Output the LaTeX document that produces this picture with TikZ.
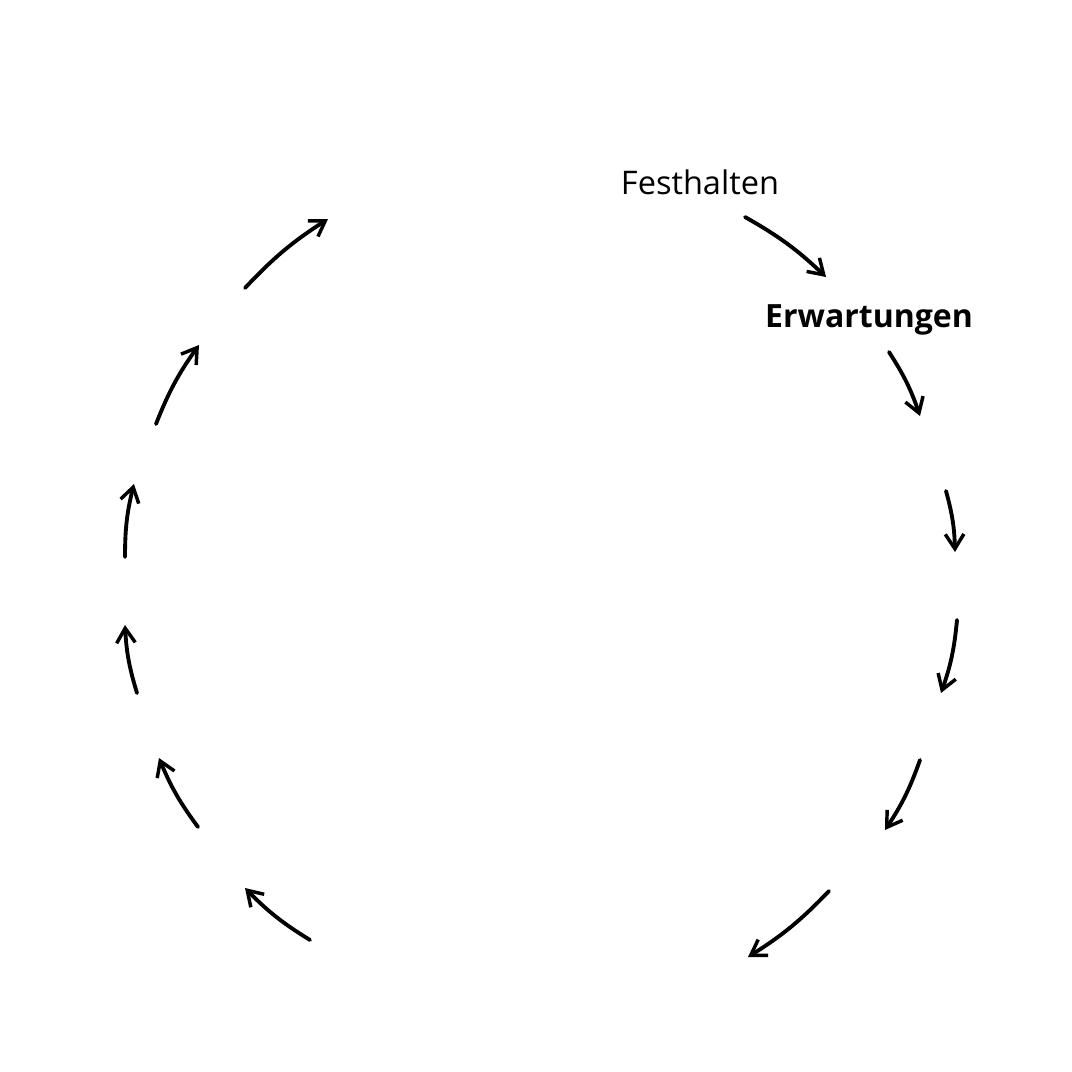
\documentclass[tikz,border=0pt]{standalone}
\usepackage{fontspec}
\setmainfont{Open Sans}
\usetikzlibrary{arrows.meta}
\tikzset{
  sketcharrow/.style={line width=2.9pt, line cap=round, line join=round,
    -{Straight Barb[length=11pt,width=14pt,line width=2.6pt]}},
  lbl/.style={inner sep=0pt, anchor=base}
}
\begin{document}
\begin{tikzpicture}[x=0.75pt,y=-0.75pt]
\useasboundingbox[fill=white] (0,0) rectangle (1072,1072);
\node[lbl, font=\fontsize{24.4}{28}\selectfont] (fest) at (700,194) {Festhalten};
\node[lbl, font=\fontsize{24}{28}\selectfont\bfseries] (erw) at (869,327) {Erwartungen};
\coordinate (a1s) at (745,217); \coordinate (a1e) at (826,277);
\coordinate (a2s) at (889,352); \coordinate (a2e) at (920,416);
\coordinate (a3s) at (946,491); \coordinate (a3e) at (955,552);
\coordinate (a4s) at (957,620); \coordinate (a4e) at (941,693);
\coordinate (a5s) at (920,760); \coordinate (a5e) at (885,830);
\coordinate (a6s) at (829,891); \coordinate (a6e) at (748,957);
\coordinate (a7s) at (310,940); \coordinate (a7e) at (245,888);
\coordinate (a8s) at (198,827); \coordinate (a8e) at (159,758);
\coordinate (a9s) at (137,693); \coordinate (a9e) at (125,625);
\coordinate (a10s) at (125,557); \coordinate (a10e) at (134,484);
\coordinate (a11s) at (156,424); \coordinate (a11e) at (199,345);
\coordinate (a12s) at (245,288); \coordinate (a12e) at (328,219);
\foreach \i in {1,...,12}{
  \draw[sketcharrow] (a\i s) to[bend left=7] (a\i e);
}
\end{tikzpicture}
\end{document}
